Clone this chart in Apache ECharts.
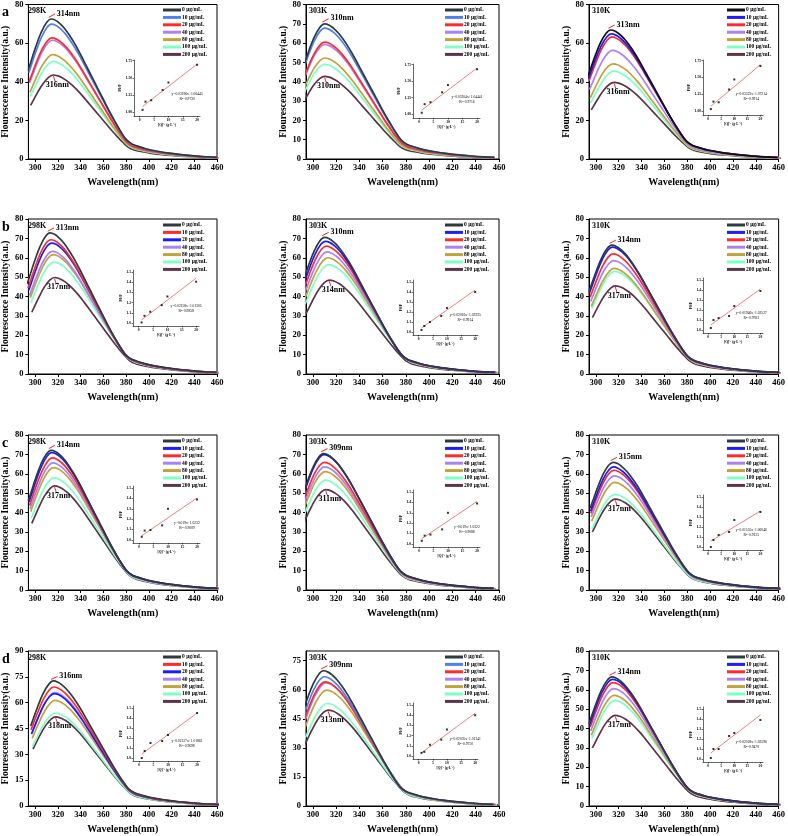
<!DOCTYPE html>
<html><head><meta charset="utf-8">
<script src="https://cdn.jsdelivr.net/npm/echarts@6/dist/echarts.min.js"></script>
<style>html,body{margin:0;padding:0;background:#fff}#c{width:788px;height:836px}</style>
</head><body><div id="c"></div>
<script>
// ---------- DATA ----------
const wavelength = [294,296,300,305,310,314,318,322,326,330,335,340,345,350,355,360,365,370,375,380,385,390,395,400,410,420,430,440,450,460];
const spectralProfile = [0.64,0.69,0.79,0.90,0.975,1.0,0.99,0.965,0.93,0.885,0.82,0.745,0.665,0.585,0.505,0.425,0.345,0.27,0.2,0.14,0.108,0.092,0.079,0.068,0.052,0.04,0.03,0.022,0.016,0.012];
const concentrationLabels = ['0 μg/mL','10 μg/mL','20 μg/mL','40 μg/mL','80 μg/mL','100 μg/mL','200 μg/mL'];
const xTickLabels = [300,320,340,360,380,400,420,440,460];
const yTicks20 = [0,20,40,60,80];
const yTicks10 = [0,10,20,30,40,50,60,70,80];
const yTicks15a = [0,15,30,45,60,75,90];
const yTicks15b = [0,15,30,45,60,75];
const insetXTicks = [0,5,10,15,20];
const insetYTicksA = [1.00,1.25,1.50,1.75];
const insetYTicksB = [1.0,1.1,1.2,1.3,1.4,1.5];
const insetX = [1,2,4,8,10,20];

const peaksA298 = [72.5,69.8,62.7,61.5,54.0,50.5,43.5];
const peaksA303 = [70.0,67.8,60.5,59.3,52.3,49.0,42.8];
const peaksA310 = [66.8,64.8,63.2,56.2,49.3,45.5,39.7];
const peaksB298 = [72.8,69.3,67.6,63.3,61.6,57.8,49.8];
const peaksB303 = [70.5,68.5,66.0,63.0,60.0,56.5,48.5];
const peaksB310 = [66.5,65.5,62.0,58.5,54.5,53.0,45.5];
const peaksC298 = [72.1,70.9,68.2,65.6,63.2,57.9,53.7];
const peaksC303 = [70.4,69.9,65.9,63.5,61.1,56.7,51.8];
const peaksC310 = [65.9,63.5,61.8,58.9,55.5,49.4,46.9];
const peaksD298 = [72.6,69.1,65.2,65.8,61.3,54.0,51.7];
const peaksD303 = [69.8,66.7,64.1,63.6,59.8,52.9,49.5];
const peaksD310 = [66.6,65.4,63.7,60.6,57.1,54.5,46.8];

const peakTextA298 = ['314nm','316nm'];
const peakTextA303 = ['310nm','310nm'];
const peakTextA310 = ['313nm','316nm'];
const peakTextB298 = ['313nm','317nm'];
const peakTextB303 = ['310nm','314nm'];
const peakTextB310 = ['314nm','317nm'];
const peakTextC298 = ['314nm','317nm'];
const peakTextC303 = ['309nm','311nm'];
const peakTextC310 = ['315nm','317nm'];
const peakTextD298 = ['316nm','318nm'];
const peakTextD303 = ['309nm','313nm'];
const peakTextD310 = ['314nm','317nm'];

const insetA298 = [1.03,1.15,1.17,1.32,1.43,1.69];
const insetA303 = [1.02,1.15,1.18,1.33,1.44,1.68];
const insetA310 = [1.03,1.14,1.13,1.32,1.47,1.67];
const insetB298 = [1.005,1.07,1.11,1.175,1.26,1.405];
const insetB303 = [1.02,1.06,1.10,1.16,1.24,1.40];
const insetB310 = [1.02,1.10,1.12,1.14,1.24,1.39];
const insetC298 = [1.03,1.09,1.095,1.14,1.30,1.39];
const insetC303 = [1.03,1.08,1.09,1.14,1.30,1.39];
const insetC310 = [1.00,1.07,1.12,1.15,1.27,1.35];
const insetD298 = [1.00,1.07,1.15,1.17,1.23,1.45];
const insetD303 = [1.03,1.04,1.11,1.16,1.26,1.40];
const insetD310 = [1.01,1.10,1.10,1.23,1.26,1.39];

const fitA298 = [[1,1.08],[20,1.70]];
const fitA303 = [[1,1.06],[20,1.70]];
const fitA310 = [[1,1.07],[20,1.69]];
const fitB298 = [[1,1.03],[20,1.44]];
const fitB303 = [[1,1.04],[20,1.42]];
const fitB310 = [[1,1.05],[20,1.41]];
const fitC298 = [[1,1.04],[20,1.405]];
const fitC303 = [[1,1.05],[20,1.41]];
const fitC310 = [[1,1.06],[20,1.36]];
const fitD298 = [[1,1.04],[20,1.45]];
const fitD303 = [[1,1.03],[20,1.42]];
const fitD310 = [[1,1.06],[20,1.44]];

const eqA298 = ['y=0.03196x+1.06443','R²=0.9730'];
const eqA303 = ['y=0.03304x+1.04441','R²=0.9716'];
const eqA310 = ['y=0.03322x+1.07214','R²=0.9914'];
const eqB298 = ['y=0.02158x+1.01305','R²=0.9858'];
const eqB303 = ['y=0.02016x+1.03935','R²=0.9914'];
const eqB310 = ['y=0.01946x+1.02527','R²=0.9783'];
const eqC298 = ['y=0.019x+1.0232','R²=0.9009'];
const eqC303 = ['y=0.019x+1.0322','R²=0.9088'];
const eqC310 = ['y=0.01555x+1.06046','R²=0.9125'];
const eqD298 = ['y=0.02127x+1.01862','R²=0.9698'];
const eqD303 = ['y=0.02035x+1.01341','R²=0.9750'];
const eqD310 = ['y=0.02028x+1.02596','R²=0.9470'];

// ---------- STYLE ----------
const C = {dark:'#2d3b40', blueL:'#4f7ff2', blue:'#1c1cff', red:'#ff2b2b', violet:'#a982f5', olive:'#c2a23c', aqua:'#7dffc6', plum:'#5c3448', black:'#111111'};
const colorsA = [C.dark,C.blueL,C.red,C.violet,C.olive,C.aqua,C.plum];
const colorsA3 = [C.black,C.blue,C.red,C.violet,C.olive,C.aqua,C.plum];
const colorsRB = [C.dark,C.red,C.blue,C.violet,C.olive,C.aqua,C.plum];
const colorsBR = [C.dark,C.blue,C.red,C.violet,C.olive,C.aqua,C.plum];
const FONT = 'Liberation Serif';

const colsPx = [[25,217],[306,499],[589,781]];
const rowsPx = [[4,159],[219,374],[435,590],[651,806]];
const insetBoxes = [
  [134,60,200,116],[413,64,480,118],[703,60,763,115],
  [133,270,199,326],[413,280,478,335],[703,278,763,333],
  [133,486,200,543],[413,490,480,547],[703,495,763,550],
  [133,706,200,761],[413,703,478,759],[703,707,763,762]
];

const panels = [
  {row:0,col:0,letter:'a',temp:'298K',peaks:peaksA298,colors:colorsA,yMax:80,yTicks:yTicks20,pt:peakTextA298,ins:insetA298,fit:fitA298,eq:eqA298},
  {row:0,col:1,temp:'303K',peaks:peaksA303,colors:colorsA,yMax:80,yTicks:yTicks10,pt:peakTextA303,ins:insetA303,fit:fitA303,eq:eqA303},
  {row:0,col:2,temp:'310K',peaks:peaksA310,colors:colorsA3,yMax:80,yTicks:yTicks20,pt:peakTextA310,ins:insetA310,fit:fitA310,eq:eqA310},
  {row:1,col:0,letter:'b',temp:'298K',peaks:peaksB298,colors:colorsRB,yMax:80,yTicks:yTicks10,pt:peakTextB298,ins:insetB298,fit:fitB298,eq:eqB298},
  {row:1,col:1,temp:'303K',peaks:peaksB303,colors:colorsBR,yMax:80,yTicks:yTicks10,pt:peakTextB303,ins:insetB303,fit:fitB303,eq:eqB303},
  {row:1,col:2,temp:'310K',peaks:peaksB310,colors:colorsBR,yMax:80,yTicks:yTicks10,pt:peakTextB310,ins:insetB310,fit:fitB310,eq:eqB310},
  {row:2,col:0,letter:'c',temp:'298K',peaks:peaksC298,colors:colorsBR,yMax:80,yTicks:yTicks10,pt:peakTextC298,ins:insetC298,fit:fitC298,eq:eqC298},
  {row:2,col:1,temp:'303K',peaks:peaksC303,colors:colorsBR,yMax:80,yTicks:yTicks10,pt:peakTextC303,ins:insetC303,fit:fitC303,eq:eqC303},
  {row:2,col:2,temp:'310K',peaks:peaksC310,colors:colorsBR,yMax:80,yTicks:yTicks10,pt:peakTextC310,ins:insetC310,fit:fitC310,eq:eqC310},
  {row:3,col:0,letter:'d',temp:'298K',peaks:peaksD298,colors:colorsRB,yMax:90,yTicks:yTicks15a,pt:peakTextD298,ins:insetD298,fit:fitD298,eq:eqD298},
  {row:3,col:1,temp:'303K',peaks:peaksD303,colors:colorsA,yMax:80,yTicks:yTicks15b,pt:peakTextD303,ins:insetD303,fit:fitD303,eq:eqD303},
  {row:3,col:2,temp:'310K',peaks:peaksD310,colors:colorsBR,yMax:80,yTicks:yTicks10,pt:peakTextD310,ins:insetD310,fit:fitD310,eq:eqD310}
];

const option = {animation:false, backgroundColor:'#fff', title:[], grid:[], xAxis:[], yAxis:[], legend:[], series:[]};
const txt = (size, extra) => Object.assign({fontFamily:FONT, fontWeight:'bold', fontSize:size, color:'#000'}, extra||{});

panels.forEach((p, pi) => {
  const [L,R] = colsPx[p.col];
  const [T,B] = rowsPx[p.row];
  if (p.letter) option.title.push({text:p.letter, left:2, top:T+1, padding:0, textStyle:txt(14)});
  option.title.push({text:p.temp, left:L+3, top:T+3, padding:0, textStyle:txt(8)});

  const g = option.grid.length;
  option.grid.push({left:L, top:T, width:R-L, height:B-T, show:true, borderColor:'#000', borderWidth:1, backgroundColor:'transparent'});
  option.xAxis.push({gridIndex:g, type:'value', min:294, max:460,
    axisLine:{show:true, onZero:false, lineStyle:{color:'#000', width:1}},
    axisTick:{show:true, inside:false, length:3, customValues:xTickLabels, lineStyle:{color:'#000'}},
    axisLabel:{customValues:xTickLabels, margin:4, ...txt(8.5)},
    splitLine:{show:false},
    name:'Wavelength(nm)', nameLocation:'middle', nameGap:18, nameTextStyle:txt(10)});
  option.yAxis.push({gridIndex:g, type:'value', min:0, max:p.yMax,
    axisLine:{show:true, onZero:false, lineStyle:{color:'#000', width:1}},
    axisTick:{show:true, inside:false, length:3, customValues:p.yTicks, lineStyle:{color:'#000'}},
    axisLabel:{customValues:p.yTicks, margin:5, ...txt(8.5)},
    splitLine:{show:false},
    name:'Flourescence Intensity(a.u.)', nameLocation:'middle', nameGap:15, nameTextStyle:txt(9.5)});

  const topWl = parseFloat(p.pt[0]), botWl = parseFloat(p.pt[1]);
  const names = concentrationLabels.map(s => s + '\u200b'.repeat(pi));
  p.peaks.forEach((pk, ci) => {
    const shift = (topWl - 314) + (botWl - topWl) * ci / 6;
    const s = {type:'line', name:names[ci], xAxisIndex:g, yAxisIndex:g, smooth:0.4, showSymbol:false, symbol:'none',
      clip:true, z:10-ci,
      lineStyle:{color:p.colors[ci], width:1.7}, itemStyle:{color:p.colors[ci]},
      data: wavelength.map((w,i) => [w + shift, +(pk * spectralProfile[i]).toFixed(2)])};
    if (ci === 0) {
      s.markLine = {silent:true, symbol:['none','arrow'], symbolSize:[0,5], label:{show:false},
        lineStyle:{color:'#ff2020', width:1, type:'solid'},
        data:[[{coord:[topWl+3.5, pk+2.6]},{coord:[topWl-2, pk+0.9]}]]};
      s.markPoint = {silent:true, symbol:'circle', symbolSize:0.1,
        label:{show:true, position:'right', distance:0, formatter:p.pt[0], ...txt(8)},
        data:[{coord:[topWl+5, pk+2.8]}]};
    }
    if (ci === 6) {
      s.markLine = {silent:true, symbol:['none','arrow'], symbolSize:[0,5], label:{show:false},
        lineStyle:{color:'#ff2020', width:1, type:'solid'},
        data:[[{coord:[botWl+1.5, pk-3.2]},{coord:[botWl, pk-0.6]}]]};
      s.markPoint = {silent:true, symbol:'circle', symbolSize:0.1,
        label:{show:true, position:'inside', formatter:p.pt[1], ...txt(8)},
        data:[{coord:[botWl+3.5, pk-5]}]};
    }
    option.series.push(s);
  });

  option.legend.push({orient:'vertical', left:R-54, top:T+3, padding:0, itemWidth:18, itemHeight:3, itemGap:1.4,
    icon:'rect', selectedMode:false, data:names,
    textStyle:txt(5.5, {lineHeight:6, padding:[0,0,0,-4]})});

  const ib = insetBoxes[pi];
  const isA = p.row === 0;
  const gi = option.grid.length;
  option.grid.push({left:ib[0], top:ib[1], width:ib[2]-ib[0], height:ib[3]-ib[1], show:false});
  option.xAxis.push({gridIndex:gi, type:'value', min:-2, max:21,
    axisLine:{show:true, onZero:false, lineStyle:{color:'#000', width:0.6}},
    axisTick:{show:true, length:1.5, customValues:insetXTicks, lineStyle:{color:'#000', width:0.6}},
    axisLabel:{customValues:insetXTicks, margin:2, ...txt(3.6)},
    splitLine:{show:false},
    name:'[Q]⁻¹ (g·L⁻¹)', nameLocation:'middle', nameGap:6, nameTextStyle:txt(3.6)});
  option.yAxis.push({gridIndex:gi, type:'value', min:isA?0.94:0.97, max:isA?1.76:1.52,
    axisLine:{show:true, onZero:false, lineStyle:{color:'#000', width:0.6}},
    axisTick:{show:true, length:1.5, customValues:isA?insetYTicksA:insetYTicksB, lineStyle:{color:'#000', width:0.6}},
    axisLabel:{customValues:isA?insetYTicksA:insetYTicksB, margin:2, formatter:v => v.toFixed(isA?2:1), ...txt(3.6)},
    splitLine:{show:false},
    name:'F0/F', nameLocation:'middle', nameGap:10, nameTextStyle:txt(3.6)});
  option.series.push({type:'line', xAxisIndex:gi, yAxisIndex:gi, showSymbol:false, symbol:'none', z:20,
    lineStyle:{color:'#f07070', width:0.9}, data:p.fit,
    markPoint:{silent:true, symbol:'circle', symbolSize:0.1,
      label:{show:true, position:'inside', formatter:p.eq[0] + '\n' + p.eq[1], lineHeight:5, ...txt(3.6, {fontWeight:'normal'})},
      data:[{coord:[16.5, isA?1.22:1.14]}]}});
  option.series.push({type:'scatter', xAxisIndex:gi, yAxisIndex:gi, symbol:'rect', symbolSize:2, z:21,
    itemStyle:{color:'#000'}, data:insetX.map((x,i) => [x, p.ins[i]])});
});

const chart = echarts.init(document.getElementById('c'), null, {renderer:'canvas'});
chart.setOption(option);
</script></body></html>
